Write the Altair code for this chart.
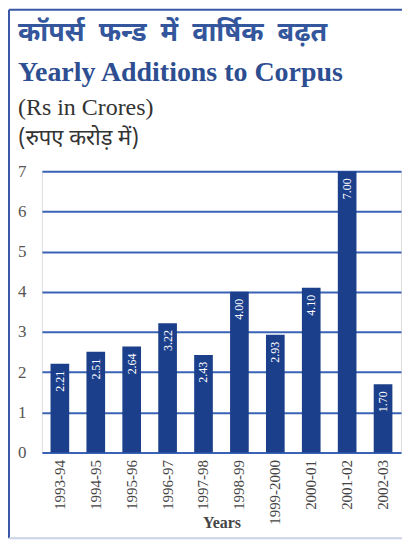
import altair as alt
import pandas as pd

years = ["1993-94", "1994-95", "1995-96", "1996-97", "1997-98",
         "1998-99", "1999-2000", "2000-01", "2001-02", "2002-03"]
values = [2.21, 2.51, 2.64, 3.22, 2.43, 4.00, 2.93, 4.10, 7.00, 1.70]
y_ticks = [0, 1, 2, 3, 4, 5, 6, 7]

title_hi = "कॉपर्स\u00a0\u00a0फन्ड\u00a0\u00a0में\u00a0\u00a0वार्षिक\u00a0\u00a0बढ़त"
title_en = "Yearly Additions to Corpus"
sub_en = "(Rs in Crores)"
sub_hi = "(रुपए\u00a0करोड़\u00a0में)"

df = pd.DataFrame({"year": years, "value": values})
df["label"] = [f"{v:.2f}" for v in values]
one = pd.DataFrame({"a": [0]})

BLUE = "#1c3f8c"
GRID = "#3b63b5"
BORDER = "#3a58a6"
SERIF = "Liberation Serif"
DEVA = "Noto Sans Devanagari, Noto Serif Devanagari, Lohit Devanagari, sans-serif"

x = alt.X("year:N", sort=years, title="Years",
          scale=alt.Scale(paddingInner=0.48, paddingOuter=0.24),
          axis=alt.Axis(labelAngle=270, labelFont=SERIF, labelFontSize=15,
                        labelColor="#444", ticks=False, domain=False,
                        labelPadding=7, titleFont=SERIF, titleFontSize=16,
                        titleFontWeight="bold", titleColor="#444",
                        titlePadding=-10))
y = alt.Y("value:Q", title=None,
          scale=alt.Scale(domain=[0, 7], nice=False),
          axis=alt.Axis(values=y_ticks, labelFont=SERIF, labelFontSize=17,
                        labelColor="#555", ticks=False, domain=False,
                        grid=True, gridColor=GRID, gridWidth=2,
                        labelPadding=16))

bars = alt.Chart(df).mark_bar(color=BLUE).encode(x=x, y=y)
labels = alt.Chart(df).mark_text(
    angle=270, align="right", baseline="middle", color="white",
    font=SERIF, fontSize=12, dx=-7
).encode(x=alt.X("year:N", sort=years), y="value:Q", text="label:N")

base = alt.Chart(one)
t1 = base.mark_text(align="left", baseline="alphabetic", font=DEVA,
                    fontSize=27, fontWeight="bold", color="#34569c").encode(
    x=alt.value(-24), y=alt.value(-131), text=alt.value(title_hi))
t2 = base.mark_text(align="left", baseline="alphabetic", font=SERIF,
                    fontSize=28, fontWeight="bold", color="#2d4e91").encode(
    x=alt.value(-24), y=alt.value(-90), text=alt.value(title_en))
t3 = base.mark_text(align="left", baseline="alphabetic", font=SERIF,
                    fontSize=24, color="#333").encode(
    x=alt.value(-24), y=alt.value(-56), text=alt.value(sub_en))
t4 = base.mark_text(align="left", baseline="alphabetic", font=DEVA,
                    fontSize=22, color="#333").encode(
    x=alt.value(-24), y=alt.value(-26), text=alt.value(sub_hi))

b_left = base.mark_rule(color=BORDER, strokeWidth=2).encode(
    x=alt.value(-33), y=alt.value(-162), y2=alt.value(368))
b_top = base.mark_rule(color=BORDER, strokeWidth=2).encode(
    x=alt.value(-33), x2=alt.value(361), y=alt.value(-162))
b_bot = base.mark_rule(color="#c9d2e6", strokeWidth=2).encode(
    x=alt.value(-33), x2=alt.value(361), y=alt.value(368))

chart = alt.layer(bars, labels, t1, t2, t3, t4, b_left, b_top, b_bot).properties(
    width=360, height=282,
    padding={"left": 0, "top": 0, "right": 0, "bottom": 0},
).configure_view(stroke=None).configure(background="white")

chart.save("out.html", embed_options={"renderer": "svg", "actions": False})
